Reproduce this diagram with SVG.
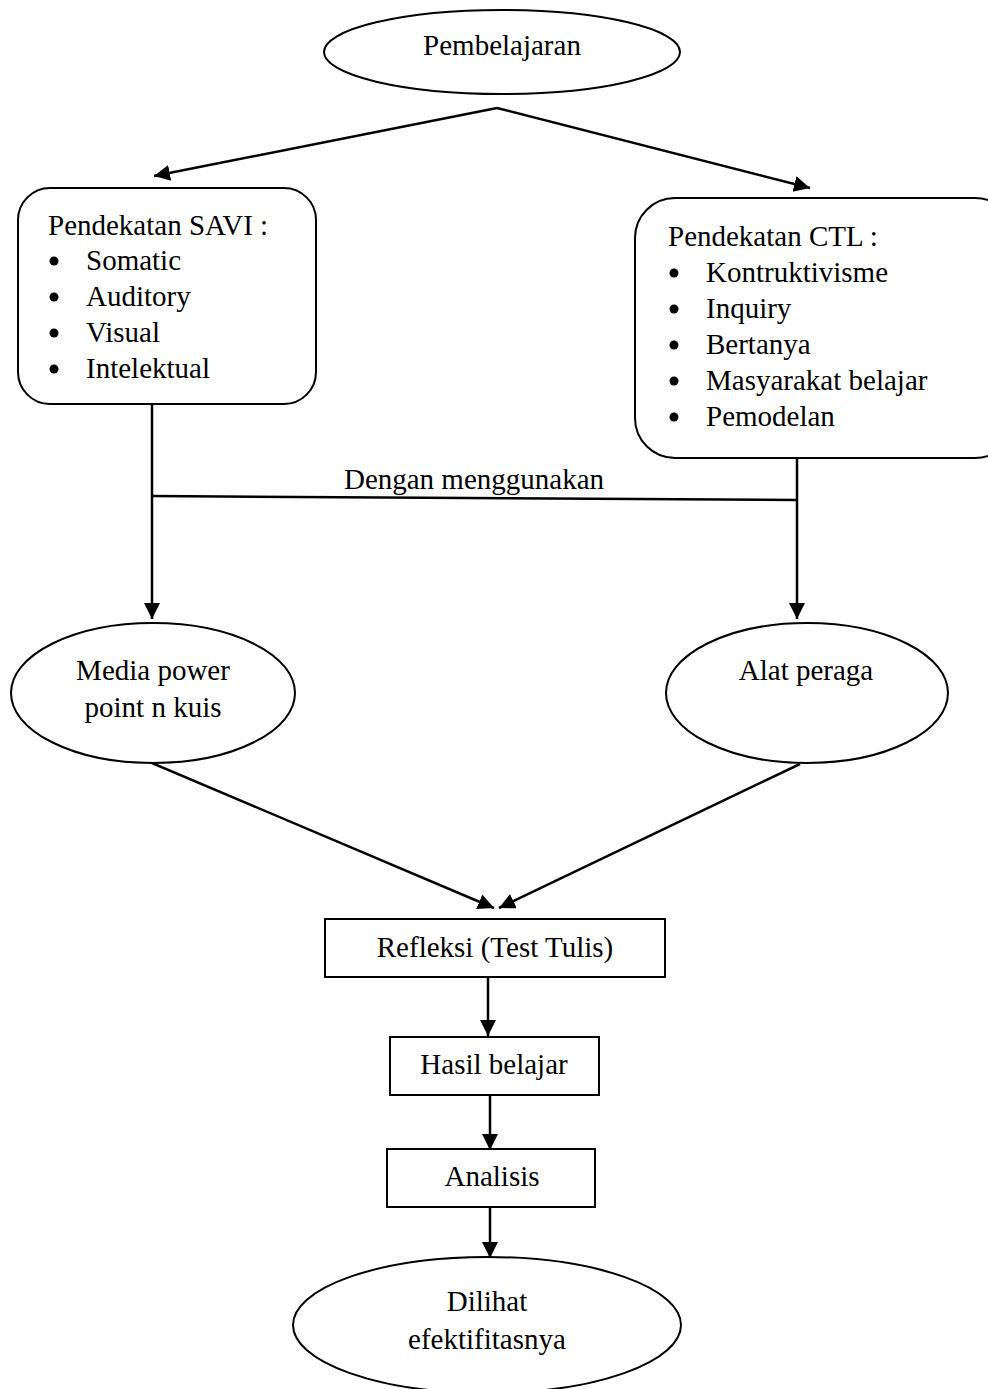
<svg xmlns="http://www.w3.org/2000/svg" width="988" height="1389" viewBox="0 0 988 1389">
<style>
.s{fill:#fff;stroke:#000;stroke-width:2}
.t{font-family:"Liberation Serif","Times New Roman",serif;font-size:29px;fill:#000}
.m{text-anchor:middle}
.c{stroke:#000;stroke-width:2.5;fill:none}
.a{marker-end:url(#ah)}
.b{fill:#000}
</style>
<defs>
<marker id="ah" markerUnits="userSpaceOnUse" markerWidth="17" markerHeight="17" refX="16" refY="8" orient="auto">
<path d="M0,0 L16,8 L0,16 Z" fill="#000"/>
</marker>
</defs>
<rect width="988" height="1389" fill="#fff"/>
<g id="connectors">
<path class="c a" d="M497,108 L154,176"/>
<path class="c a" d="M497,108 L810,188"/>
<path class="c a" d="M152,404 L152,619"/>
<path class="c a" d="M797,459 L797,619"/>
<path class="c" d="M152,496 L797,500"/>
<path class="c a" d="M152,763 L494,908"/>
<path class="c a" d="M800,764 L499,908"/>
<path class="c a" d="M488,978 L488,1036"/>
<path class="c a" d="M490,1096 L490,1150"/>
<path class="c a" d="M490,1202 L490,1258"/>
</g>
<g id="label-dengan">
<text class="t m" x="474" y="489">Dengan menggunakan</text>
</g>
<g id="pembelajaran">
<ellipse class="s" cx="502" cy="52" rx="178" ry="42"/>
<text class="t m" x="502" y="55">Pembelajaran</text>
</g>
<g id="savi">
<rect class="s" x="18" y="188" width="298" height="216" rx="32" ry="32"/>
<text class="t" x="48" y="235">Pendekatan SAVI :</text>
<circle class="b" cx="54" cy="261" r="4.5"/><text class="t" x="86" y="270">Somatic</text>
<circle class="b" cx="54" cy="297" r="4.5"/><text class="t" x="86" y="306">Auditory</text>
<circle class="b" cx="54" cy="333" r="4.5"/><text class="t" x="86" y="342">Visual</text>
<circle class="b" cx="54" cy="369" r="4.5"/><text class="t" x="86" y="378">Intelektual</text>
</g>
<g id="ctl">
<rect class="s" x="635" y="198" width="380" height="260" rx="40" ry="40"/>
<text class="t" x="668" y="246">Pendekatan CTL :</text>
<circle class="b" cx="674" cy="273" r="4.5"/><text class="t" x="706" y="282">Kontruktivisme</text>
<circle class="b" cx="674" cy="309" r="4.5"/><text class="t" x="706" y="318">Inquiry</text>
<circle class="b" cx="674" cy="345" r="4.5"/><text class="t" x="706" y="354">Bertanya</text>
<circle class="b" cx="674" cy="381" r="4.5"/><text class="t" x="706" y="390">Masyarakat belajar</text>
<circle class="b" cx="674" cy="417" r="4.5"/><text class="t" x="706" y="426">Pemodelan</text>
</g>
<g id="media">
<ellipse class="s" cx="153" cy="693" rx="142" ry="70"/>
<text class="t m" x="153" y="680">Media power</text>
<text class="t m" x="153" y="717">point n kuis</text>
</g>
<g id="alat">
<ellipse class="s" cx="807" cy="693" rx="141" ry="70"/>
<text class="t m" x="806" y="680">Alat peraga</text>
</g>
<g id="refleksi">
<rect class="s" x="325" y="919" width="340" height="58"/>
<text class="t m" x="495" y="957">Refleksi (Test Tulis)</text>
</g>
<g id="hasil">
<rect class="s" x="390" y="1037" width="209" height="58"/>
<text class="t m" x="494" y="1074">Hasil belajar</text>
</g>
<g id="analisis">
<rect class="s" x="387" y="1149" width="208" height="58"/>
<text class="t m" x="492" y="1186">Analisis</text>
</g>
<g id="dilihat">
<ellipse class="s" cx="487" cy="1325" rx="194" ry="68"/>
<text class="t m" x="487" y="1311">Dilihat</text>
<text class="t m" x="487" y="1349">efektifitasnya</text>
</g>
</svg>
